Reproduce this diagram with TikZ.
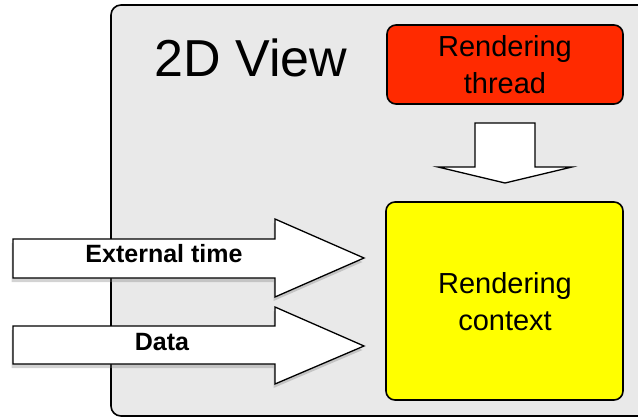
\documentclass[tikz,border=0pt]{standalone}
\usepackage{fontspec}
\setmainfont{Liberation Sans}
\usetikzlibrary{shadows}
\definecolor{panelgray}{RGB}{233,233,233}
\definecolor{threadred}{RGB}{255,42,0}
\definecolor{ctxyellow}{RGB}{255,255,0}
\tikzset{
  panel/.style={draw=black, line width=1.6pt, fill=panelgray, rounded corners=10pt},
  blockbox/.style={draw=black, line width=1.6pt, rounded corners=9pt},
  fatarrow/.style={draw=black, line width=1.3pt, fill=white, line join=miter},
  shadowed/.style={drop shadow={shadow xshift=-1.5pt, shadow yshift=-4pt, opacity=0.35}},
  bigtitle/.style={font=\fontsize{52}{56}\selectfont, inner sep=0pt},
  boxlabel/.style={font=\fontsize{29}{37}\selectfont, align=center, inner sep=0pt},
  arrowlabel/.style={font=\fontsize{25}{28}\selectfont\bfseries, inner sep=0pt},
}
\begin{document}
\begin{tikzpicture}[x=1pt, y=-1pt]
\useasboundingbox (0,0) rectangle (638,418);
\begin{scope}
\clip (0,0) rectangle (638,418);
% 2D view panel, running off the right edge
\draw[panel] (111,5) rectangle (680,416);
\end{scope}
\node[bigtitle] (title) at (251,58) {2D View};

% rendering thread
\draw[blockbox, fill=threadred] (387,25) rectangle (623,104);
\node[boxlabel] (thread) at (505,65) {Rendering\\thread};

% rendering context
\draw[blockbox, fill=ctxyellow] (386,202) rectangle (623,400);
\node[boxlabel] (context) at (505,302) {Rendering\\context};

% block arrow from thread to context
\draw[fatarrow] (475,123) -- (535,123) -- (535,167) -- (572,167) -- (505,183)
  -- (438,167) -- (475,167) -- cycle;

% incoming block arrows
\draw[fatarrow, shadowed] (13,239) -- (275,239) -- (275,219) -- (364,258)
  -- (275,297) -- (275,278) -- (13,278) -- cycle;
\node[arrowlabel] (exttime) at (164,254) {External time};

\draw[fatarrow, shadowed] (13,326) -- (275,326) -- (275,307) -- (364,346)
  -- (275,384) -- (275,364) -- (13,364) -- cycle;
\node[arrowlabel] (data) at (162,342) {Data};
\end{tikzpicture}
\end{document}
